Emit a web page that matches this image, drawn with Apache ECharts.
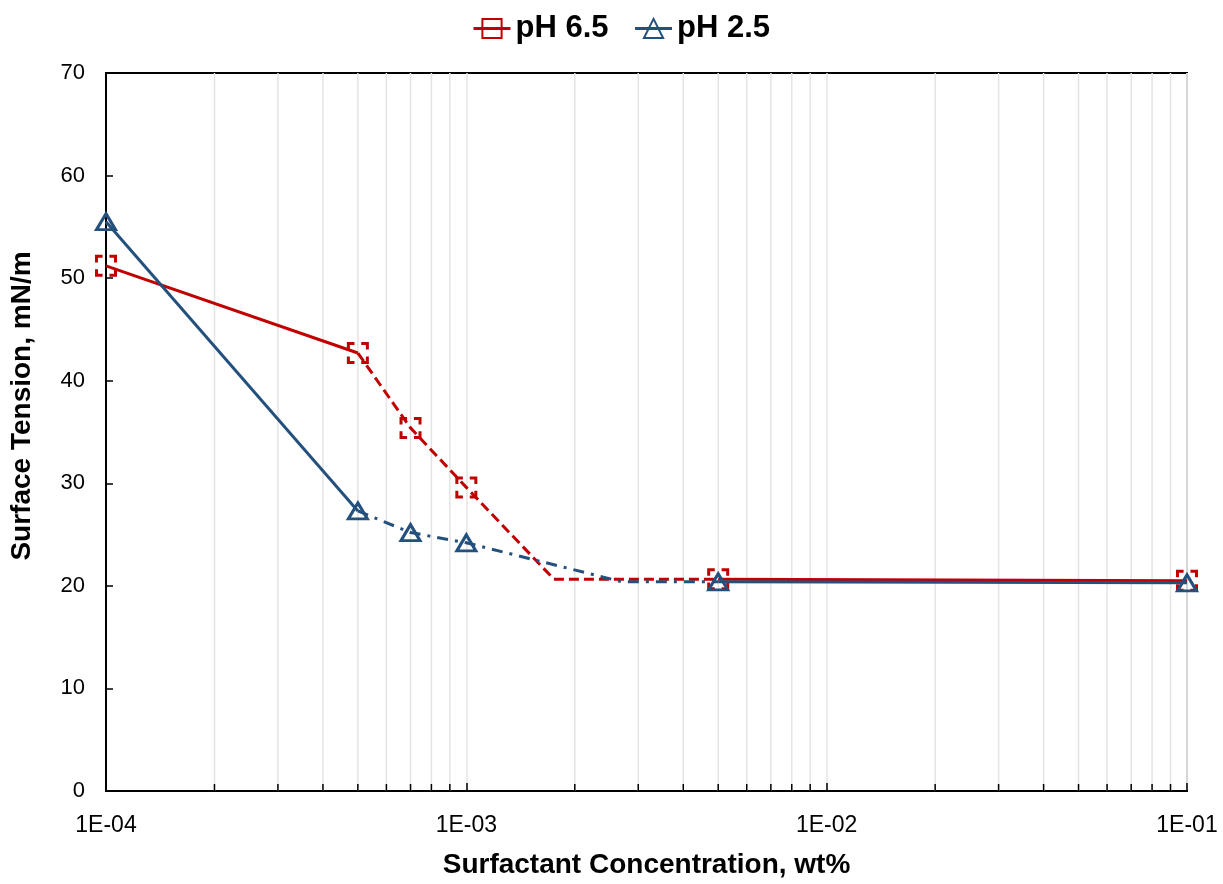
<!DOCTYPE html>
<html>
<head>
<meta charset="utf-8">
<style>
  html, body { margin: 0; padding: 0; background: #fff; }
  #chart { width: 1223px; height: 884px; }
</style>
<script src="https://cdn.jsdelivr.net/npm/echarts@6/dist/echarts.min.js"></script>
</head>
<body>
<div id="chart"></div>
<script>
// Surfactant concentration, wt%
const concentration = [1e-4, 5e-4, 7e-4, 1e-3, 5e-3, 1e-1];
// Surface tension, mN/m
const tensionPH65 = [51.2, 42.7, 35.4, 29.6, 20.65, 20.5];
const tensionPH25 = [55.5, 27.3, 25.2, 24.2, 20.4, 20.3];
// Break points (CMC) where the two fitted lines meet: [concentration, tension]
const cmcPH65 = [0.00175, 20.65];
const cmcPH25 = [0.0027, 20.4];
// Decade tick labels
const xTickLabels = { '-4': '1E-04', '-3': '1E-03', '-2': '1E-02', '-1': '1E-01' };

const RED = '#C00000';
const BLUE = '#24507E';
const SANS = '"Liberation Sans", Arial, sans-serif';

function pts(tension, idx) { return idx.map(i => [concentration[i], tension[i]]); }

// Minor gridline positions: 2..9 within each decade
const minorValues = [];
for (let d = -4; d < -1; d++) {
  for (let k = 2; k <= 9; k++) minorValues.push([k * Math.pow(10, d), 0]);
}

function segment(name, data, color, type, z) {
  return {
    name, type: 'line', data, z,
    showSymbol: false, symbol: 'none', silent: true,
    lineStyle: { color, width: 3, type },
    itemStyle: { color }
  };
}

// Square side used for the dashed "corner bracket" outline
const SQ = 19;

function markers(name, tension, symbol, color, z) {
  const isSquare = symbol === 'rect';
  return {
    name, type: 'line', z,
    data: pts(tension, [0, 1, 2, 3, 4, 5]),
    symbol, symbolSize: isSquare ? [SQ, SQ] : [19, 16],
    lineStyle: { opacity: 0, width: 0 },
    itemStyle: isSquare
      ? { color: 'rgba(255,255,255,0)', borderColor: color, borderWidth: 3,
          borderType: [SQ * 0.64, SQ * 0.36], borderDashOffset: SQ * 0.32 }
      : { color: 'rgba(255,255,255,0)', borderColor: color, borderWidth: 3, borderType: 'solid' }
  };
}

const chart = echarts.init(document.getElementById('chart'));
chart.setOption({
  animation: false,
  grid: { left: 106, right: 36, top: 73, bottom: 92, show: true, borderColor: '#000', borderWidth: 2, backgroundColor: 'transparent' },
  legend: {
    top: 8, left: 467, itemGap: 25, itemWidth: 37, itemHeight: 24,
    textStyle: { fontFamily: SANS, fontSize: 31, fontWeight: 'bold', color: '#000' },
    data: [
      { name: 'pH 6.5', lineStyle: { color: RED, width: 3, type: 'solid', opacity: 1 } },
      { name: 'pH 2.5', lineStyle: { color: BLUE, width: 3, type: 'solid', opacity: 1 } }
    ]
  },
  graphic: [{
    type: 'text', x: 22, y: 406,
    rotation: Math.PI / 2,
    style: {
      text: 'Surface Tension, mN/m', x: 0, y: 0,
      fontFamily: SANS, fontSize: 28, fontWeight: 'bold', fill: '#000',
      align: 'center', verticalAlign: 'middle'
    }
  }],
  xAxis: {
    type: 'log', logBase: 10, min: 1e-4, max: 1e-1,
    name: 'Surfactant Concentration, wt%', nameLocation: 'middle', nameGap: 60,
    nameTextStyle: { fontFamily: SANS, fontSize: 28, fontWeight: 'bold', color: '#000' },
    axisLine: { lineStyle: { color: '#000', width: 2 } },
    axisTick: { inside: true, length: 8, lineStyle: { color: '#000', width: 1.5 } },
    splitLine: { show: true, lineStyle: { color: '#e4e4e4', width: 1.5 } },
    axisLabel: {
      fontFamily: SANS, fontSize: 23, color: '#000', margin: 23,
      formatter: v => xTickLabels[String(Math.round(Math.log10(v)))] || ''
    }
  },
  yAxis: {
    type: 'value', min: 0, max: 70, interval: 10,
    axisLine: { show: true, lineStyle: { color: '#000', width: 2 } },
    axisTick: { show: true, inside: true, length: 7, lineStyle: { color: '#000', width: 1.5 } },
    splitLine: { show: false },
    axisLabel: { fontFamily: SANS, fontSize: 22, color: '#000', margin: 21 }
  },
  series: [
    markers('pH 6.5', tensionPH65, 'rect', RED, 5),
    markers('pH 2.5', tensionPH25, 'triangle', BLUE, 7),
    {
      // minor gridlines and inward minor ticks at 2..9 of each decade
      type: 'custom', name: 'minor', z: 1, silent: true, data: minorValues,
      renderItem: function (params, api) {
        const bottom = api.coord([api.value(0), 0]);
        const top = api.coord([api.value(0), 70]);
        return {
          type: 'group', children: [
            { type: 'line', shape: { x1: bottom[0], y1: bottom[1], x2: top[0], y2: top[1] }, style: { stroke: '#e4e4e4', lineWidth: 1.5 } },
            { type: 'line', shape: { x1: bottom[0], y1: bottom[1], x2: bottom[0], y2: bottom[1] - 7 }, style: { stroke: '#000', lineWidth: 1.5 } }
          ]
        };
      }
    },
    segment('pH 6.5', pts(tensionPH65, [0, 1]), RED, 'solid', 4),
    segment('pH 6.5', [...pts(tensionPH65, [1, 2, 3]), cmcPH65, ...pts(tensionPH65, [4])], RED, [10, 5], 4),
    segment('pH 6.5', pts(tensionPH65, [4, 5]), RED, 'solid', 4),
    segment('pH 2.5', pts(tensionPH25, [0, 1]), BLUE, 'solid', 6),
    segment('pH 2.5', [...pts(tensionPH25, [1, 2, 3]), cmcPH25, ...pts(tensionPH25, [4])], BLUE, [11, 7, 3, 7], 6),
    segment('pH 2.5', pts(tensionPH25, [4, 5]), BLUE, 'solid', 6)
  ]
});
</script>
</body>
</html>
